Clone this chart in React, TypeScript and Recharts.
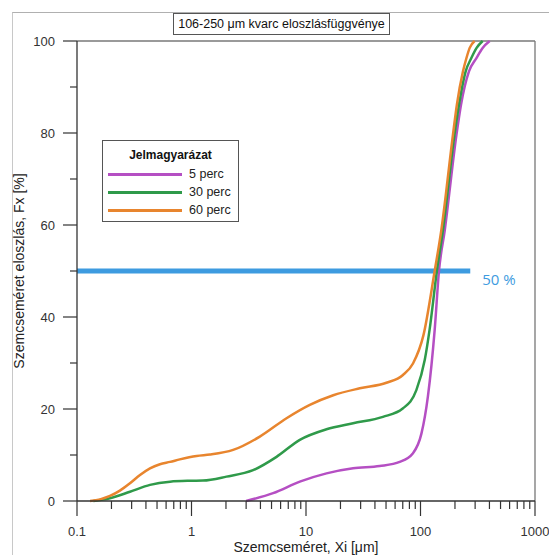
import React from "react";
import { LineChart, Line, XAxis, YAxis, ReferenceLine, Legend } from "recharts";

// ---- data ----
const perc5X = [3.0, 5.16, 8.83, 15.1, 25.8, 44, 65.8, 86, 102, 116, 133, 145, 163, 206, 226, 265, 308, 349, 402];
const perc5Y = [0, 1.7, 4.2, 6.0, 7.1, 7.6, 8.5, 10.4, 14.7, 22.7, 37.2, 50, 58.9, 79.6, 86.2, 93.4, 96.3, 98.5, 100];

const perc30X = [0.139, 0.194, 0.29, 0.434, 0.65, 0.97, 1.26, 2.02, 3.45, 5.53, 8.83, 15.1, 25.8, 47, 70, 92, 109, 120, 139, 157, 198, 217, 248, 278, 309, 349];
const perc30Y = [0, 0.6, 2.0, 3.5, 4.2, 4.4, 4.45, 5.3, 6.7, 9.6, 13.3, 15.6, 16.9, 18.3, 20.1, 24.1, 30.7, 37.2, 50, 58.9, 79.6, 86.2, 93.4, 96.3, 98.5, 100];

const perc60X = [0.13, 0.159, 0.194, 0.237, 0.29, 0.355, 0.434, 0.53, 0.65, 0.79, 1.108, 1.45, 2.31, 3.95, 6.76, 10.8, 17.3, 29.5, 50.4, 70.3, 86, 106, 133, 152, 192, 208, 235, 252, 269, 297];
const perc60Y = [0, 0.36, 1.1, 2.25, 3.85, 5.65, 7.1, 8.0, 8.5, 9.05, 9.8, 10.1, 11.1, 14.0, 18.0, 20.9, 23.0, 24.5, 25.7, 27.4, 29.9, 36, 50, 58.9, 79.6, 86.2, 93.4, 96.3, 98.5, 100];

const seriesNames = ["5 perc", "30 perc", "60 perc"];
const seriesColors = ["#b54fc3", "#2f9a4a", "#e8852e"];

const xMajorTicks = [0.1, 1, 10, 100, 1000];
const xTickLabels = ["0.1", "1", "10", "100", "1000"];
const xAllTicks = [
  0.1, 0.2, 0.3, 0.4, 0.5, 0.6, 0.7, 0.8, 0.9,
  1, 2, 3, 4, 5, 6, 7, 8, 9,
  10, 20, 30, 40, 50, 60, 70, 80, 90,
  100, 200, 300, 400, 500, 600, 700, 800, 900,
  1000,
];
const yAllTicks = [0, 10, 20, 30, 40, 50, 60, 70, 80, 90, 100];
const yMajorTicks = [0, 20, 40, 60, 80, 100];

const fiftyLevel = 50;
const fiftyLineEndX = 272;

const titleText = "106-250 μm kvarc eloszlásfüggvénye";
const legendTitle = "Jelmagyarázat";
const xAxisTitle = "Szemcseméret, Xi [μm]";
const yAxisTitle = "Szemcseméret eloszlás, Fx [%]";

const zip = (xs: number[], ys: number[]) => xs.map((x, i) => ({ x, y: ys[i] }));
const data5 = zip(perc5X, perc5Y);
const data30 = zip(perc30X, perc30Y);
const data60 = zip(perc60X, perc60Y);

const FONT = "Arial, 'Liberation Sans', sans-serif";
const AXIS_COLOR = "#333";

const XTick = (props: any) => {
  const { x, y, payload } = props;
  const v = payload.value;
  const idx = xMajorTicks.findIndex((m) => Math.abs(m - v) < 1e-9);
  const major = idx >= 0;
  return (
    <g>
      <line x1={x} x2={x} y1={y} y2={y + (major ? 15 : 8)} stroke={AXIS_COLOR} strokeWidth={1.2} />
      {major && (
        <text x={x} y={y + 35} textAnchor="middle" fontSize={13} fill="#333" fontFamily={FONT}>
          {xTickLabels[idx]}
        </text>
      )}
    </g>
  );
};

const YTick = (props: any) => {
  const { x, y, payload } = props;
  const v = payload.value;
  const major = yMajorTicks.includes(v);
  return (
    <g>
      <line x1={x} x2={x - (major ? 14 : 7)} y1={y} y2={y} stroke={AXIS_COLOR} strokeWidth={1.2} />
      {major && (
        <text x={x - 22} y={y + 4.5} textAnchor="end" fontSize={13} fill="#333" fontFamily={FONT}>
          {v}
        </text>
      )}
    </g>
  );
};

const LegendBox = (props: any) => {
  const payload = (props.payload || [])
    .filter((p: any) => seriesNames.includes(p.value))
    .slice()
    .sort((a: any, b: any) => seriesNames.indexOf(a.value) - seriesNames.indexOf(b.value));
  return (
    <div
      style={{
        width: 135,
        height: 80,
        border: "1px solid #555",
        background: "#fff",
        fontFamily: FONT,
        position: "relative",
      }}
    >
      <div
        style={{
          position: "absolute",
          top: 7,
          left: 0,
          width: "100%",
          textAlign: "center",
          fontWeight: "bold",
          fontSize: 12,
          color: "#111",
        }}
      >
        {legendTitle}
      </div>
      {payload.map((p: any, i: number) => (
        <div key={p.value} style={{ position: "absolute", left: 5, top: 25 + i * 18, height: 16, width: 130 }}>
          <div style={{ position: "absolute", left: 0, top: 6.5, width: 74, height: 3, background: p.color }} />
          <div style={{ position: "absolute", left: 81, top: 0, fontSize: 12.5, color: "#222", lineHeight: "16px" }}>
            {p.value}
          </div>
        </div>
      ))}
    </div>
  );
};

const FiftyLabel = (props: any) => {
  const vb = props.viewBox || {};
  const x = (vb.x || 0) + (vb.width || 0) + 12;
  const y = (vb.y || 0) + 14;
  return (
    <text x={x} y={y} fontSize={15} fill="#3d9be0" fontFamily="'Open Sans', sans-serif">
      50 %
    </text>
  );
};

const YTitle = (props: any) => {
  const vb = props.viewBox || {};
  const cx = (vb.x || 0) + 20;
  const cy = (vb.y || 0) + (vb.height || 0) / 2;
  return (
    <text
      x={cx}
      y={cy}
      transform={`rotate(-90 ${cx} ${cy})`}
      textAnchor="middle"
      dominantBaseline="middle"
      fontSize={14}
      fill="#222"
      fontFamily={FONT}
    >
      {yAxisTitle}
    </text>
  );
};

const XTitle = (props: any) => {
  const vb = props.viewBox || {};
  const cx = (vb.x || 0) + (vb.width || 0) / 2;
  const y = (vb.y || 0) + 51;
  return (
    <text x={cx} y={y} textAnchor="middle" fontSize={14} fill="#222" fontFamily={FONT}>
      {xAxisTitle}
    </text>
  );
};

export default function App() {
  return (
    <div style={{ position: "absolute", left: 0, top: 0, width: 549, height: 555, background: "#fff", overflow: "hidden" }}>
      <div style={{ position: "absolute", left: 12, top: 12, width: 600, height: 600, borderLeft: "1px solid #c8c8c8", borderTop: "1px solid #b0b0b0" }} />
      <div style={{ position: "absolute", left: 0, top: 0 }}>
        <LineChart width={549} height={555} data={data5} margin={{ top: 41, right: 14, bottom: 0, left: 0 }}>
          <XAxis
            dataKey="x"
            type="number"
            scale="log"
            domain={[0.1, 1000]}
            allowDataOverflow
            ticks={xAllTicks}
            interval={0}
            tick={<XTick />}
            tickLine={false}
            tickSize={0}
            tickMargin={0}
            height={54}
            axisLine={{ stroke: AXIS_COLOR, strokeWidth: 1.3 }}
            label={<XTitle />}
          />
          <YAxis
            dataKey="y"
            type="number"
            domain={[0, 100]}
            ticks={yAllTicks}
            interval={0}
            tick={<YTick />}
            tickLine={false}
            tickSize={0}
            tickMargin={0}
            width={77}
            axisLine={{ stroke: AXIS_COLOR, strokeWidth: 1.3 }}
            label={<YTitle />}
          />
          <ReferenceLine y={100} stroke="#9a9a9a" strokeWidth={1.8} />
          <ReferenceLine x={1000} stroke="#777" strokeWidth={1.3} />
          <ReferenceLine
            segment={[
              { x: 0.1, y: fiftyLevel },
              { x: fiftyLineEndX, y: fiftyLevel },
            ]}
            stroke="#3d9be0"
            strokeWidth={5}
            label={<FiftyLabel />}
          />
          <Line data={data5} dataKey="y" name={seriesNames[0]} type="monotone" stroke={seriesColors[0]} strokeWidth={2.5} dot={false} isAnimationActive={false} />
          <Line data={data30} dataKey="y" name={seriesNames[1]} type="monotone" stroke={seriesColors[1]} strokeWidth={2.5} dot={false} isAnimationActive={false} />
          <Line data={data60} dataKey="y" name={seriesNames[2]} type="monotone" stroke={seriesColors[2]} strokeWidth={2.5} dot={false} isAnimationActive={false} />
          <Legend
            layout="vertical"
            align="center"
            verticalAlign="middle"
            content={<LegendBox />}
            wrapperStyle={{ position: "absolute", left: 102, top: 140, width: 137, height: 82 }}
          />
        </LineChart>
      </div>
      <div
        style={{
          position: "absolute",
          left: 173,
          top: 13,
          width: 215,
          height: 20,
          border: "1px solid #555",
          background: "#fff",
          fontFamily: FONT,
          fontSize: 12.5,
          lineHeight: "20px",
          textAlign: "center",
          color: "#111",
          whiteSpace: "nowrap",
        }}
      >
        {titleText}
      </div>
    </div>
  );
}
